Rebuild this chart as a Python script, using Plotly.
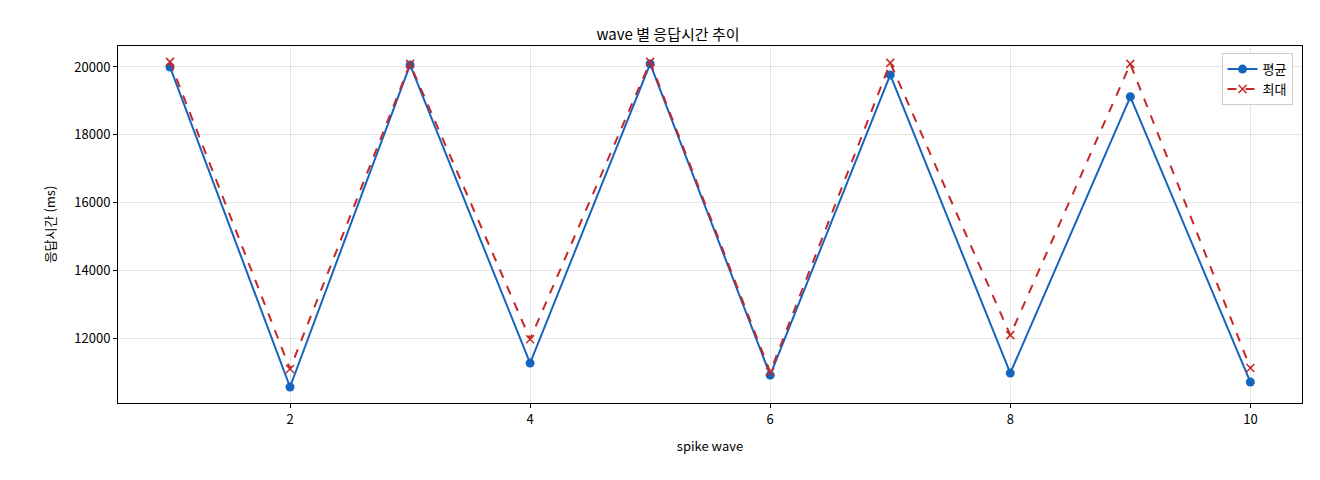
import plotly.graph_objects as go

waves = [1, 2, 3, 4, 5, 6, 7, 8, 9, 10]
avg_ms = [20000, 10560, 20060, 11265, 20090, 10910, 19765, 10970, 19120, 10705]
max_ms = [20150, 11090, 20090, 11970, 20150, 11000, 20120, 12090, 20090, 11120]

fig = go.Figure()
fig.add_trace(go.Scatter(
    name='평균', x=waves, y=avg_ms, mode='lines+markers',
    line=dict(color='#1565c0', width=2),
    marker=dict(symbol='circle', size=9, color='#1565c0')
))
fig.add_trace(go.Scatter(
    name='최대', x=waves, y=max_ms, mode='lines+markers',
    line=dict(color='#c62828', width=2, dash='dash'),
    marker=dict(symbol='x-thin', size=8, line=dict(width=1.5, color='#c62828'))
))

axis_style = dict(showline=True, linecolor='black', linewidth=1, mirror=True,
                  ticks='outside', ticklen=4, tickcolor='black',
                  showgrid=True, gridcolor='rgba(0,0,0,0.1)', zeroline=False)

fig.update_layout(
    width=1320, height=480,
    margin=dict(l=110, r=26, t=38, b=85),
    plot_bgcolor='white', paper_bgcolor='white',
    font=dict(family='Noto Sans CJK KR', size=13, color='black'),
    title=dict(text='wave 별 응답시간 추이', x=0.5, xanchor='center', y=0.955, font=dict(size=15)),
    xaxis=dict(title=dict(text='spike wave', font=dict(size=13)), range=[0.567, 10.43],
               tickvals=[2, 4, 6, 8, 10], **axis_style),
    yaxis=dict(title=dict(text='응답시간 (ms)', font=dict(size=13)), range=[10088, 20618],
               tickvals=[12000, 14000, 16000, 18000, 20000], tickformat='d', **axis_style),
    legend=dict(x=0.992, y=0.98, xanchor='right', yanchor='top',
                bgcolor='white', bordercolor='#cccccc', borderwidth=1, font=dict(size=13)),
)

fig.write_html("out.html")
